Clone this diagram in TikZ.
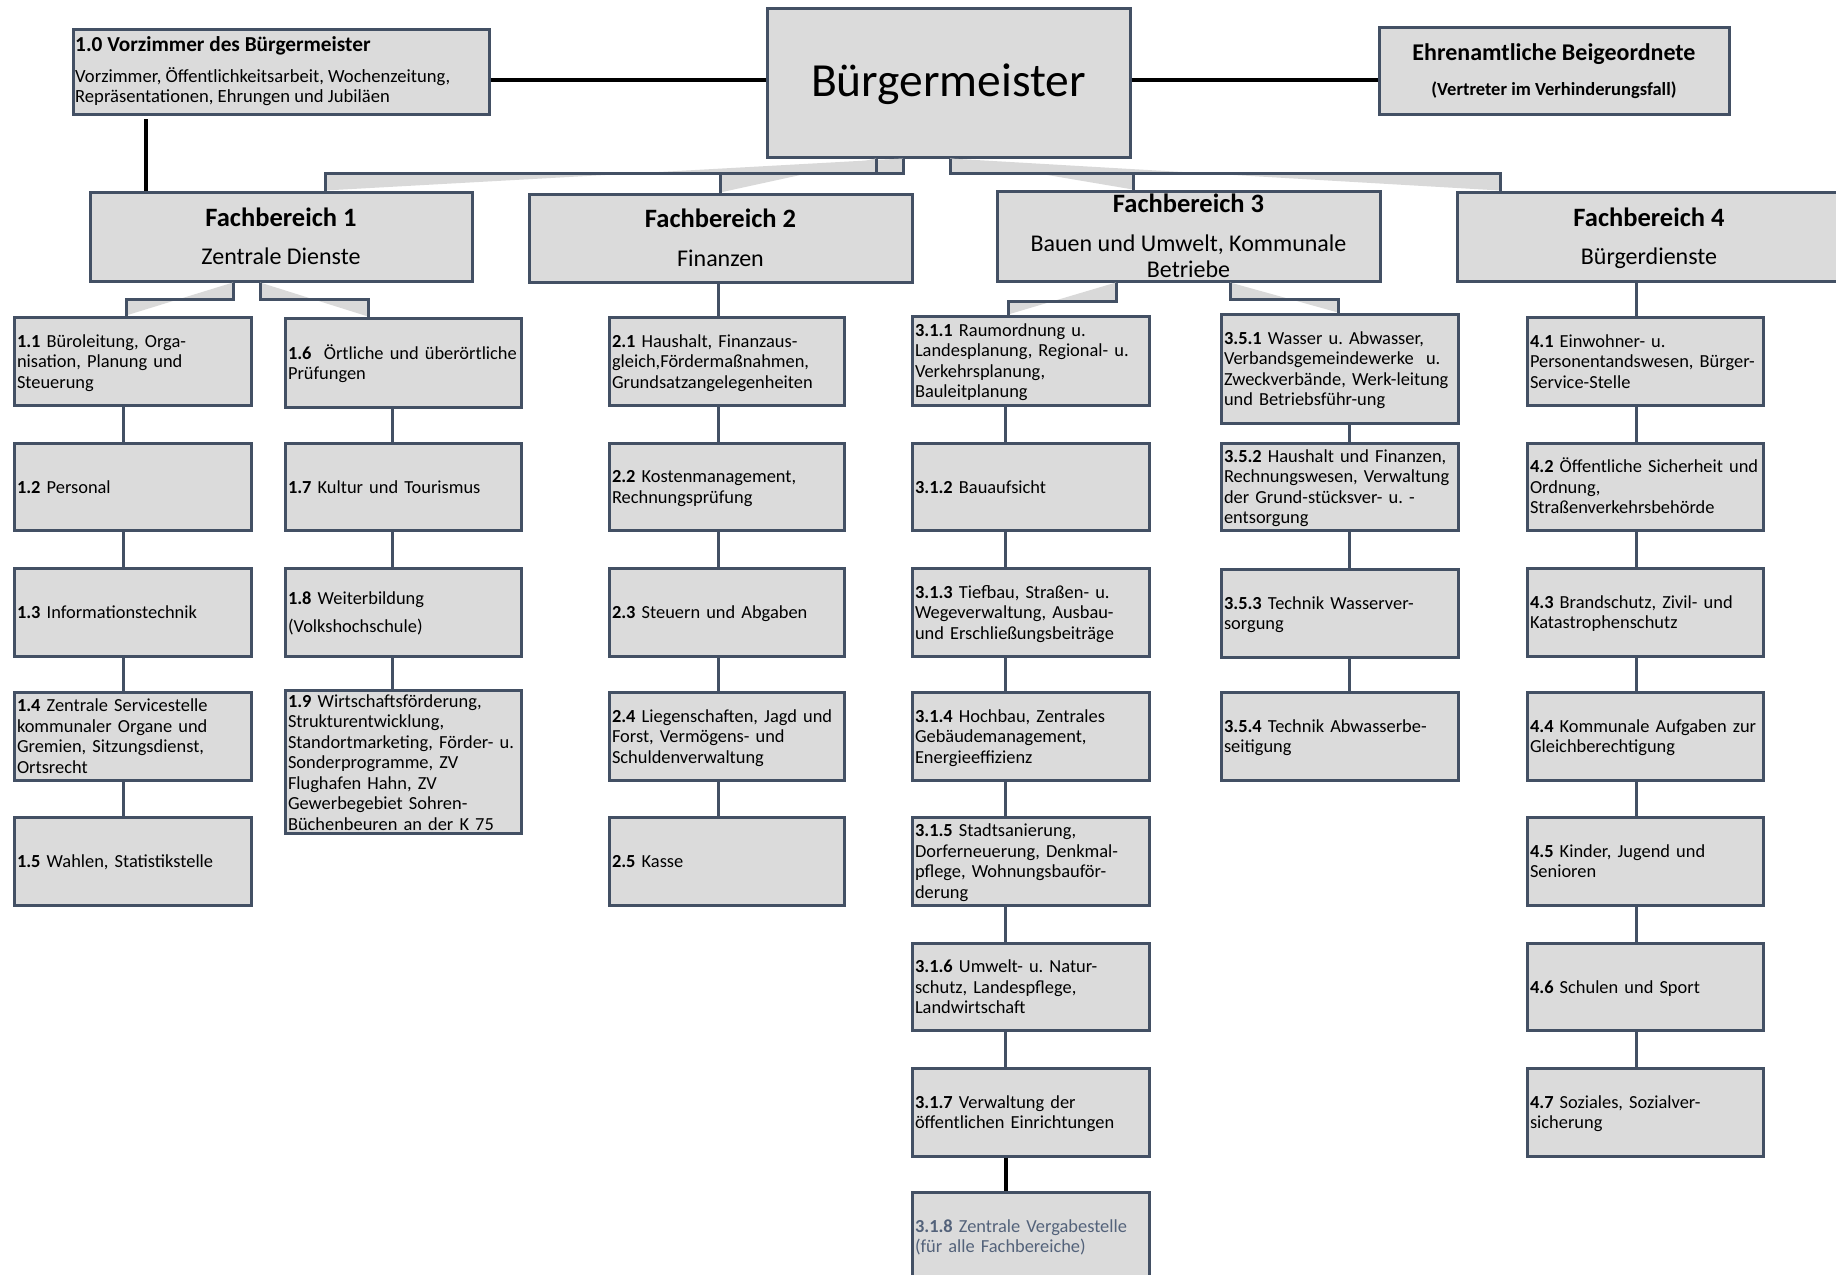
\documentclass[tikz,border=0pt]{standalone}
\usepackage{fontspec}
\setmainfont{Carlito}
\frenchspacing
\definecolor{bordc}{HTML}{435064}
\definecolor{boxfill}{HTML}{DBDBDB}
\definecolor{linkfill}{HTML}{D9D9D9}
\definecolor{vgtext}{HTML}{53627A}
\tikzset{
  ubox/.style={draw=bordc, line width=3pt, fill=boxfill, inner xsep=3pt, inner ysep=0pt,
    anchor=center, align=left, font=\fontsize{18.4}{20.5}\selectfont\frenchspacing},
  link/.style={draw=bordc, line width=3pt},
  blink/.style={draw=black, line width=4pt},
  linkfill/.style={fill=linkfill},
  fbtitle/.style={anchor=base, inner sep=0pt, font=\fontsize{26.5}{30}\selectfont\bfseries},
  fbsub/.style={anchor=base, inner sep=0pt, font=\fontsize{24}{28}\selectfont},
  smalltxt/.style={anchor=base west, inner sep=0pt, font=\fontsize{18.6}{20.5}\selectfont},
}
\newcommand\tl[1]{\noindent\raisebox{-2.5pt}[\height][\depth]{\begin{tabular}{@{}l@{}}#1\end{tabular}}}
\newcommand\ubox[7][]{%
  \pgfmathsetmacro\bw{#5-#3}%
  \pgfmathsetmacro\bh{#6-#4}%
  \pgfmathsetmacro\tw{#5-#3-6}%
  \node[ubox,minimum width=\bw pt,minimum height=\bh pt,text width=\tw pt,#1] (#2) at ({(#3+#5)/2},{(#4+#6)/2}) {\tl{#7}};}
\newcommand\ebox[5]{%
  \pgfmathsetmacro\bw{#4-#2}%
  \pgfmathsetmacro\bh{#5-#3}%
  \node[ubox,minimum width=\bw pt,minimum height=\bh pt] (#1) at ({(#2+#4)/2},{(#3+#5)/2}) {};}
\newcommand\elbow[4]{%
  \fill[linkfill] #1 |- (#3 |- #2) -- #4 -- cycle;
  \draw[link] #1 |- (#3 |- #2) -- #4;}
\begin{document}
\begin{tikzpicture}[x=1pt,y=-1pt]
\useasboundingbox (0,0) rectangle (1836,1274);
\fill[white] (0,0) rectangle (1836,1274);
\clip (0,0) rectangle (1836,1274);

% ---------- top level ----------
\ebox{v10}{73}{29}{489}{114}
\ebox{bm}{767}{8}{1130}{157}
\ebox{eh}{1379}{27}{1729}{114}
\ebox{fb1}{90}{192}{472}{281}
\ebox{fb2}{529}{194}{912}{282}
\ebox{fb3}{997}{191}{1380}{281}
\ebox{fb4}{1457}{192}{1841}{281}

\node[anchor=base, inner sep=0pt, font=\fontsize{47.5}{52}\selectfont] (bmt) at (948.5,96) {Bürgermeister};
\node[anchor=base, inner sep=0pt, font=\fontsize{24}{28}\selectfont\bfseries] (eht) at (1554,60) {Ehrenamtliche Beigeordnete};
\node[anchor=base, inner sep=0pt, font=\fontsize{18.5}{21}\selectfont\bfseries] (ehs) at (1554,95) {(Vertreter im Verhinderungsfall)};
\node[smalltxt, font=\fontsize{21.3}{24}\selectfont\bfseries] (v10a) at (75,51) {1.0 Vorzimmer des Bürgermeister};
\node[smalltxt] (v10b) at (75,82) {Vorzimmer, Öffentlichkeitsarbeit, Wochenzeitung,};
\node[smalltxt] (v10c) at (75,102) {Repräsentationen, Ehrungen und Jubiläen};

\node[fbtitle] (fb1t) at (281,226) {Fachbereich 1};
\node[fbsub] (fb1s) at (281,264) {Zentrale Dienste};
\node[fbtitle] (fb2t) at (720.5,227) {Fachbereich 2};
\node[fbsub] (fb2s) at (720.5,266) {Finanzen};
\node[fbtitle] (fb3t) at (1188.5,212) {Fachbereich 3};
\node[fbsub] (fb3s) at (1188.5,251) {Bauen und Umwelt, Kommunale};
\node[fbsub] (fb3u) at (1188.5,277) {Betriebe};
\node[fbtitle] (fb4t) at (1649,226) {Fachbereich 4};
\node[fbsub] (fb4s) at (1649,264) {Bürgerdienste};

% ---------- column 1 ----------
\ubox{n11}{14}{317}{251}{405}{\textbf{1.1} Büroleitung, Orga-\\nisation, Planung und\\Steuerung}
\ubox{n12}{14}{443}{251}{530}{\textbf{1.2} Personal}
\ubox{n13}{14}{568}{251}{656}{\textbf{1.3} Informationstechnik}
\ubox{n14}{14}{692}{251}{780}{\textbf{1.4} Zentrale Servicestelle\\kommunaler Organe und\\Gremien, Sitzungsdienst,\\Ortsrecht}
\ubox{n15}{14}{817}{251}{905}{\textbf{1.5} Wahlen, Statistikstelle}
% ---------- column 2 ----------
\ubox{n16}{285}{318}{521}{407}{\textbf{1.6}\ \ Örtliche und überörtliche\\Prüfungen}
\ubox{n17}{285}{443}{521}{530}{\textbf{1.7} Kultur und Tourismus}
\ubox{n18}{285}{568}{521}{656}{\textbf{1.8} Weiterbildung\\[7.5pt](Volkshochschule)}
\ubox{n19}{285}{692}{521}{832}{\textbf{1.9} Wirtschaftsförderung,\\Strukturentwicklung,\\Standortmarketing, Förder- u.\\Sonderprogramme, ZV\\Flughafen Hahn, ZV\\Gewerbegebiet Sohren-\\Büchenbeuren an der K 75}
% ---------- column 3 ----------
\ubox{n21}{609}{317}{844}{405}{\textbf{2.1} Haushalt, Finanzaus-\\gleich,Fördermaßnahmen,\\Grundsatzangelegenheiten}
\ubox{n22}{609}{443}{844}{530}{\textbf{2.2} Kostenmanagement,\\Rechnungsprüfung}
\ubox{n23}{609}{568}{844}{656}{\textbf{2.3} Steuern und Abgaben}
\ubox{n24}{609}{692}{844}{780}{\textbf{2.4} Liegenschaften, Jagd und\\Forst, Vermögens- und\\Schuldenverwaltung}
\ubox{n25}{609}{817}{844}{905}{\textbf{2.5} Kasse}
% ---------- column 4 ----------
\ubox{n311}{912}{316}{1149}{405}{\textbf{3.1.1} Raumordnung u.\\Landesplanung, Regional- u.\\Verkehrsplanung,\\Bauleitplanung}
\ubox{n312}{912}{443}{1149}{530}{\textbf{3.1.2} Bauaufsicht}
\ubox{n313}{912}{568}{1149}{656}{\textbf{3.1.3} Tiefbau, Straßen- u.\\Wegeverwaltung, Ausbau-\\und Erschließungsbeiträge}
\ubox{n314}{912}{692}{1149}{780}{\textbf{3.1.4} Hochbau, Zentrales\\Gebäudemanagement,\\Energieeffizienz}
\ubox{n315}{912}{817}{1149}{905}{\textbf{3.1.5} Stadtsanierung,\\Dorferneuerung, Denkmal-\\pflege, Wohnungsbauför-\\derung}
\ubox{n316}{912}{943}{1149}{1030}{\textbf{3.1.6} Umwelt- u. Natur-\\schutz, Landespflege,\\Landwirtschaft}
\ubox{n317}{912}{1068}{1149}{1156}{\textbf{3.1.7} Verwaltung der\\öffentlichen Einrichtungen}
\ubox[text=vgtext]{n318}{912}{1192}{1149}{1280}{\textbf{3.1.8} Zentrale Vergabestelle\\(für alle Fachbereiche)}
% ---------- column 5 ----------
\ubox{n351}{1221}{314}{1458}{423}{\textbf{3.5.1} Wasser u. Abwasser,\\Verbandsgemeindewerke\ \ u.\\Zweckverbände, Werk-leitung\\und Betriebsführ-ung}
\ubox{n352}{1221}{443}{1458}{530}{\textbf{3.5.2} Haushalt und Finanzen,\\Rechnungswesen, Verwaltung\\der Grund-stücksver- u. -\\entsorgung}
\ubox{n353}{1221}{569}{1458}{657}{\textbf{3.5.3} Technik Wasserver-\\sorgung}
\ubox{n354}{1221}{692}{1458}{780}{\textbf{3.5.4} Technik Abwasserbe-\\seitigung}
% ---------- column 6 ----------
\ubox{n41}{1527}{317}{1763}{405}{\textbf{4.1} Einwohner- u.\\Personentandswesen, Bürger-\\Service-Stelle}
\ubox{n42}{1527}{443}{1763}{530}{\textbf{4.2} Öffentliche Sicherheit und\\Ordnung,\\Straßenverkehrsbehörde}
\ubox{n43}{1527}{568}{1763}{656}{\textbf{4.3} Brandschutz, Zivil- und\\Katastrophenschutz}
\ubox{n44}{1527}{692}{1763}{780}{\textbf{4.4} Kommunale Aufgaben zur\\Gleichberechtigung}
\ubox{n45}{1527}{817}{1763}{905}{\textbf{4.5} Kinder, Jugend und\\Senioren}
\ubox{n46}{1527}{943}{1763}{1030}{\textbf{4.6} Schulen und Sport}
\ubox{n47}{1527}{1068}{1763}{1156}{\textbf{4.7} Soziales, Sozialver-\\sicherung}

% ---------- helper coordinates ----------
\coordinate (hl) at (0,80);
\coordinate (vz) at (146,119);
\coordinate (ytop) at (0,173);
\coordinate (yf1) at (0,299);
\coordinate (yf3a) at (0,301);
\coordinate (yf3b) at (0,299);
\coordinate (bmA) at (903,0);
\coordinate (bmB) at (876,0);
\coordinate (bmC) at (950,0);
\coordinate (fx1) at (325,0);
\coordinate (fx2) at (720,0);
\coordinate (fx3) at (1133,0);
\coordinate (fx4) at (1500,0);
\coordinate (f1a) at (233,0);
\coordinate (f1b) at (260,0);
\coordinate (t11) at (126,0);
\coordinate (t16) at (368,0);
\coordinate (f3a) at (1116,0);
\coordinate (f3b) at (1230,0);
\coordinate (t311) at (1008,0);
\coordinate (t351) at (1338,0);
\coordinate (c1) at (123,0);
\coordinate (c2) at (392,0);
\coordinate (c3) at (718,0);
\coordinate (c4) at (1005,0);
\coordinate (c5) at (1349,0);
\coordinate (c6) at (1636,0);
\coordinate (c4b) at (1006,0);

% ---------- black connectors ----------
\draw[blink] (v10.east |- hl) -- (bm.west |- hl);
\draw[blink] (bm.east |- hl) -- (eh.west |- hl);
\draw[blink] (vz) -- (vz |- fb1.north);
\draw[blink] (n317.south -| c4b) -- (n318.north -| c4b);

% ---------- elbow connectors ----------
\elbow{(bm.south -| bmA)}{ytop}{fx1}{(fb1.north -| fx1)}
\elbow{(bm.south -| bmB)}{ytop}{fx2}{(fb2.north -| fx2)}
\elbow{(bm.south -| bmC)}{ytop}{fx3}{(fb3.north -| fx3)}
\elbow{(bm.south -| bmC)}{ytop}{fx4}{(fb4.north -| fx4)}
\elbow{(fb1.south -| f1a)}{yf1}{t11}{(n11.north -| t11)}
\elbow{(fb1.south -| f1b)}{yf1}{t16}{(n16.north -| t16)}
\elbow{(fb3.south -| f3a)}{yf3a}{t311}{(n311.north -| t311)}
\elbow{(fb3.south -| f3b)}{yf3b}{t351}{(n351.north -| t351)}

% ---------- straight connectors ----------
\draw[link] (fb2.south -| c3) -- (n21.north -| c3);
\draw[link] (fb4.south -| c6) -- (n41.north -| c6);
\foreach \a/\b in {n11/n12,n12/n13,n13/n14,n14/n15}
  \draw[link] (\a.south -| c1) -- (\b.north -| c1);
\foreach \a/\b in {n16/n17,n17/n18,n18/n19}
  \draw[link] (\a.south -| c2) -- (\b.north -| c2);
\foreach \a/\b in {n21/n22,n22/n23,n23/n24,n24/n25}
  \draw[link] (\a.south -| c3) -- (\b.north -| c3);
\foreach \a/\b in {n311/n312,n312/n313,n313/n314,n314/n315,n315/n316,n316/n317}
  \draw[link] (\a.south -| c4) -- (\b.north -| c4);
\foreach \a/\b in {n351/n352,n352/n353,n353/n354}
  \draw[link] (\a.south -| c5) -- (\b.north -| c5);
\foreach \a/\b in {n41/n42,n42/n43,n43/n44,n44/n45,n45/n46,n46/n47}
  \draw[link] (\a.south -| c6) -- (\b.north -| c6);
\end{tikzpicture}
\end{document}
